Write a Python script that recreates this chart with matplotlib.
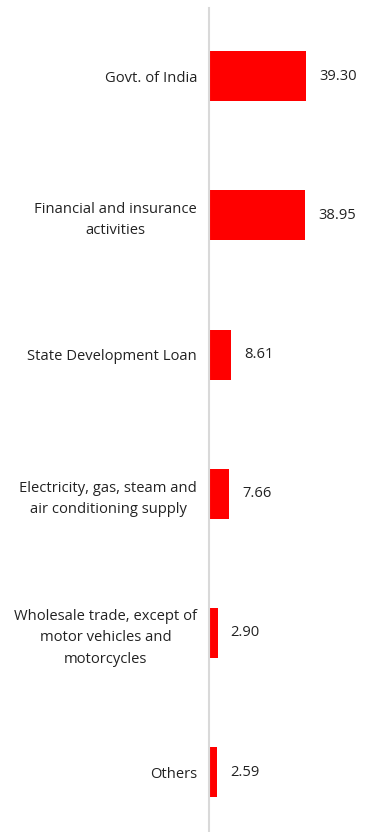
import numpy as np
import matplotlib.pyplot as plt

plt.rcParams.update({
    "font.family": ["Open Sans", "DejaVu Sans"],
    "font.size": 10.6,
})

categories = [
    "Govt. of India",
    "Financial and insurance\nactivities",
    "State Development Loan",
    "Electricity, gas, steam and\nair conditioning supply",
    "Wholesale trade, except of\nmotor vehicles and\nmotorcycles",
    "Others",
]
values = [39.30, 38.95, 8.61, 7.66, 2.90, 2.59]

W, H = 372, 832
fig = plt.figure(figsize=(W / 100, H / 100), dpi=100)
# axes placed in pixel terms: left edge is the grey axis line
ax = fig.add_axes([209 / W, 0, (W - 209) / W, (H - 8) / H])

y = np.arange(len(categories))
ax.barh(y, values, height=0.36, color="#ff0000", left=0.6)

ax.set_xlim(0, 67)
ax.set_ylim(5.43, -0.49)

for yi, v in zip(y, values):
    ax.annotate(f"{v:.2f}", xy=(v + 0.6, yi), xytext=(9.5, 0), textcoords="offset points",
                va="center", ha="left", color="#222222")

ax.set_yticks(y)
ax.set_yticklabels(categories, color="#222222", linespacing=1.55, multialignment="center")
ax.tick_params(axis="y", length=0, pad=8.5)
ax.set_xticks([])

for s in ["top", "right", "bottom"]:
    ax.spines[s].set_visible(False)
ax.spines["left"].set_color("#d9d9d9")
ax.spines["left"].set_linewidth(1.5)

fig.savefig("out.png", dpi=100)
